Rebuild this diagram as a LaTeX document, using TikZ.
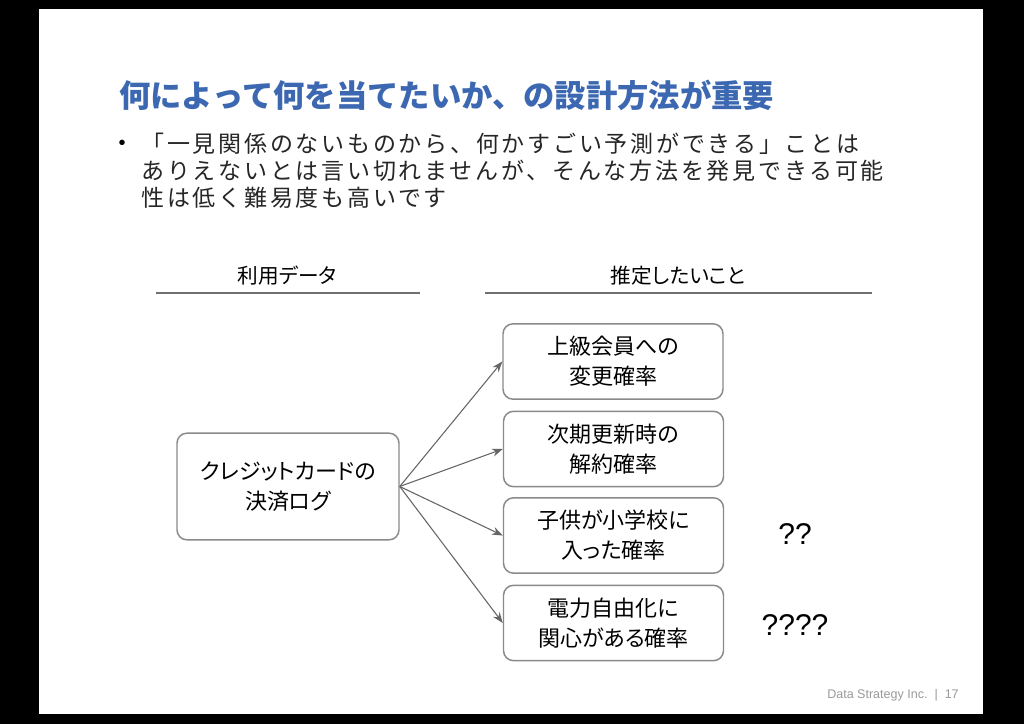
\documentclass[tikz,border=0pt]{standalone}
\usepackage{fontspec}
\setmainfont{Noto Sans CJK JP}
\newfontfamily\jp[RawFeature=+palt]{Noto Sans CJK JP}
\newfontfamily\jpls[LetterSpace=12]{Noto Sans CJK JP}
\newfontfamily\arialf{Liberation Sans}
\usetikzlibrary{arrows.meta}
\definecolor{titleblue}{HTML}{3C67B1}
\definecolor{boxgray}{HTML}{8A8A8A}
\definecolor{arrgray}{HTML}{666666}
\definecolor{linegray}{HTML}{707070}
\definecolor{footgray}{HTML}{9A9A9A}
\begin{document}
\begin{tikzpicture}[x=0.75pt,y=-0.75pt,
  box/.style={draw=boxgray, line width=1.1pt, rounded corners=7.5pt,
    minimum width=165pt, minimum height=56.5pt, align=center, inner sep=0pt,
    font=\jp\fontsize{16.5}{22.5}\selectfont},
  hdr/.style={anchor=base, inner sep=0pt, font=\jp\fontsize{15.5}{18}\selectfont},
  hline/.style={draw=linegray, line width=1.1pt},
  bl/.style={anchor=base west, inner sep=0pt, text=black!85,
    font=\jpls\fontsize{17.25}{20}\selectfont},
  arr/.style={draw=arrgray, line width=0.8pt, -{Stealth[length=8pt,width=6pt]}},
  qq/.style={anchor=base, inner sep=0pt, font=\arialf\fontsize{22.5}{26}\selectfont}
]
\useasboundingbox (0,0) rectangle (1024,724);
\fill[black] (0,0) rectangle (1024,724);
\fill[white] (39,9) rectangle (983,714);

\node[anchor=base west, inner sep=0pt, text=titleblue,
  font=\rmfamily\bfseries\fontsize{23.5}{28}\selectfont] (title) at (119,108)
  {何によって何を当てたいか、の設計方法が重要};

\node[anchor=base, inner sep=0pt, font=\arialf\fontsize{15}{18}\selectfont] (bullet) at (122,149) {•};
\node[bl] (l1) at (141,152) {「一見関係のないものから、何かすごい予測ができる」ことは};
\node[bl] (l2) at (141,179.5) {ありえないとは言い切れませんが、そんな方法を発見できる可能};
\node[bl] (l3) at (141,206.5) {性は低く難易度も高いです};

\node[hdr] (h1) at (287,283) {利用データ};
\node[hdr] (h2) at (678,283) {推定したいこと};
\coordinate (a1) at (156,293);
\coordinate (a2) at (420,293);
\coordinate (b1) at (485,293);
\coordinate (b2) at (872,293);
\draw[hline] (a1) -- (a2);
\draw[hline] (b1) -- (b2);

\node[box, minimum width=166.5pt, minimum height=80pt] (src) at (288,486.5) {クレジットカードの\\決済ログ};
\node[box] (t1) at (613,361.5) {上級会員への\\変更確率};
\node[box] (t2) at (613.5,449) {次期更新時の\\解約確率};
\node[box] (t3) at (613.5,535.5) {子供が小学校に\\入った確率};
\node[box] (t4) at (613.5,623) {電力自由化に\\関心がある確率};

\draw[arr] (src.east) -- (t1.west);
\draw[arr] (src.east) -- (t2.west);
\draw[arr] (src.east) -- (t3.west);
\draw[arr] (src.east) -- (t4.west);

\node[qq] (q1) at (795,544) {??};
\node[qq] (q2) at (795,635) {????};

\node[anchor=base west, inner sep=0pt, text=footgray,
  font=\arialf\fontsize{9.4}{11}\selectfont] (foot) at (827,698)
  {Data Strategy Inc.\ \ |\ \ 17};
\end{tikzpicture}
\end{document}
